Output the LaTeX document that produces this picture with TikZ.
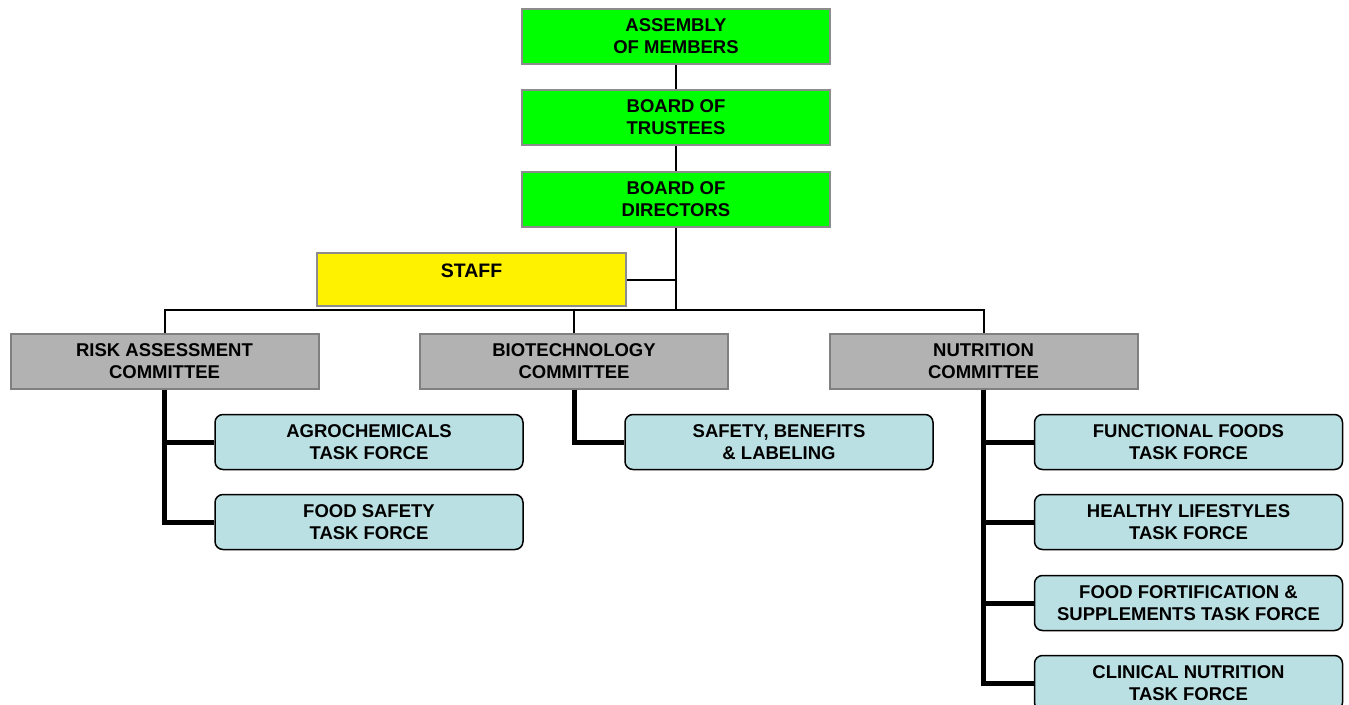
\documentclass[tikz,border=0pt]{standalone}
\usepackage{fontspec}
\setmainfont{Liberation Sans}
\begin{document}
\begin{tikzpicture}[x=1pt,y=-1pt,
  lbl/.style={font=\bfseries\fontsize{18.5}{22}\selectfont, align=center, inner sep=0pt},
  box/.style={lbl, minimum width=308pt, minimum height=55pt},
  govbox/.style={box, fill=green, draw=black!45, line width=2pt},
  staffbox/.style={draw=black!45, fill=yellow, line width=2pt},
  combox/.style={box, fill=black!30, draw=black!50, line width=2pt},
  taskbox/.style={box, fill=tcol, draw=black, line width=1.5pt, rounded corners=8pt},
  thinline/.style={draw=black, line width=2pt},
  thickline/.style={draw=black, line width=5pt}
]
\definecolor{tcol}{RGB}{187,224,227}
\useasboundingbox (0,0) rectangle (1349,704);
\tikzset{taskbox/.style={box, fill=tcol, draw=black, line width=1.5pt, rounded corners=8pt}}

% governance
\node[govbox] (asm) at (676,36.5) {ASSEMBLY\\OF MEMBERS};
\node[govbox] (tru) at (676,117.5) {BOARD OF\\TRUSTEES};
\node[govbox] (dir) at (676,199.5) {BOARD OF\\DIRECTORS};

% staff
\node[staffbox, minimum width=309pt, minimum height=53pt, inner sep=0pt] (staff) at (471.5,279.5) {};
\node[lbl, font=\bfseries\fontsize{19.5}{22}\selectfont] (stafft) at (471.5,270.5) {STAFF};

% committees
\node[combox] (risk) at (164.5,361) {RISK ASSESSMENT\\COMMITTEE};
\node[combox] (bio) at (574,361) {BIOTECHNOLOGY\\COMMITTEE};
\node[combox] (nut) at (983.5,361) {NUTRITION\\COMMITTEE};

% task forces
\node[taskbox] (agro) at (369,442) {AGROCHEMICALS\\TASK FORCE};
\node[taskbox] (fs) at (369,522) {FOOD SAFETY\\TASK FORCE};
\node[taskbox] (sbl) at (779,442) {SAFETY, BENEFITS\\\& LABELING};
\node[taskbox] (ff) at (1188.5,442) {FUNCTIONAL FOODS\\TASK FORCE};
\node[taskbox] (hl) at (1188.5,522) {HEALTHY LIFESTYLES\\TASK FORCE};
\node[taskbox] (fort) at (1188.5,603) {FOOD FORTIFICATION \&\\SUPPLEMENTS TASK FORCE};
\node[taskbox] (cn) at (1188.5,683) {CLINICAL NUTRITION\\TASK FORCE};

% connectors
\coordinate (bus) at (676,310);
\coordinate (sj) at (676,280);
\draw[thinline] (asm) -- (tru);
\draw[thinline] (tru) -- (dir);
\draw[thinline] (dir.south) -- (bus);
\draw[thinline] (staff.east |- sj) -- (sj);
\draw[thinline] (risk.north) |- (bus) -| (nut.north);
\draw[thinline] (bio.north) -- (bio.north |- bus);

\draw[thickline] (risk.south) |- (agro.west);
\draw[thickline] (risk.south) |- (fs.west);
\draw[thickline] (bio.south) |- (sbl.west);
\draw[thickline] (nut.south) |- (ff.west);
\draw[thickline] (nut.south) |- (hl.west);
\draw[thickline] (nut.south) |- (fort.west);
\draw[thickline] (nut.south) |- (cn.west);
\end{tikzpicture}
\end{document}
